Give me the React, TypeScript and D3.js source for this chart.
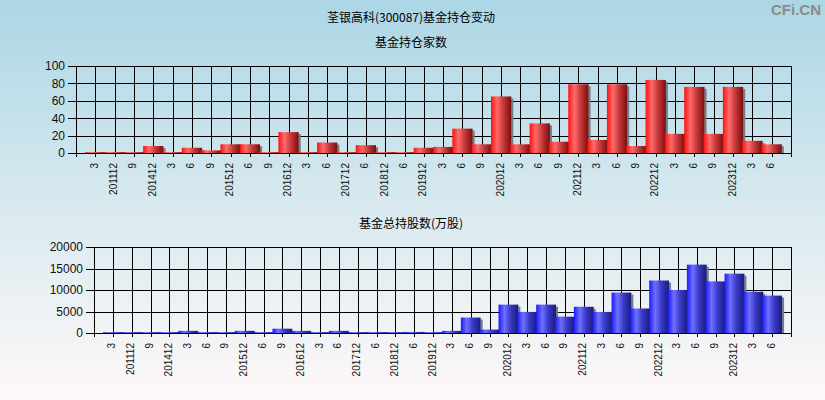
import React from 'react';
import * as d3 from 'd3';

const categories = ['3', '201112', '9', '201412', '3', '6', '9', '201512', '6', '9', '201612', '3', '6', '201712', '6', '201812', '6', '201912', '3', '6', '9', '202012', '3', '6', '9', '202112', '3', '6', '9', '202212', '3', '6', '9', '202312', '3', '6'];
const fundCount = [1, 1, 1, 8, 1, 6, 3, 10, 10, 1, 24, 1, 12, 1, 9, 1, 1, 6, 7, 28, 10, 65, 10, 34, 13, 79, 15, 79, 8, 84, 22, 76, 22, 76, 14, 10];
const fundShares = [200, 200, 200, 200, 500, 200, 200, 500, 200, 1000, 500, 200, 500, 200, 200, 200, 250, 200, 500, 3600, 800, 6600, 4900, 6600, 3800, 6100, 4900, 9400, 5700, 12200, 10000, 15900, 12000, 13800, 9600, 8700];
const countTicks = [0, 20, 40, 60, 80, 100];
const shareTicks = [0, 5000, 10000, 15000, 20000];

const W = 825;
const H = 400;
const numFont = '"Liberation Sans", Arial, sans-serif';
const cjkFont = '"Noto Sans CJK SC", sans-serif';

interface PanelProps {
    left: number,
    right: number,
    top: number,
    bottom: number,
    values: number[],
    ticks: number[],
    fill: string
}

function Panel({left, right, top, bottom, values, ticks, fill}: PanelProps) {
    const x = d3.scaleLinear().domain([-1, categories.length]).range([left, right]);
    const y = d3.scaleLinear().domain([0, ticks[ticks.length - 1]]).range([bottom, top]);
    const step = x(1) - x(0);
    const bw = step + 1;
    return (
        <g>
            {/* horizontal grid + y ticks */}
            {ticks.map(t => (
                <g key={'y' + t}>
                    <line x1={left - 8} x2={right} y1={Math.round(y(t)) + 0.5} y2={Math.round(y(t)) + 0.5} stroke="#000" strokeWidth={1}/>
                    <text x={left - 11} y={y(t)} dy="0.36em" textAnchor="end" fontFamily={numFont} fontSize={12} fill="#111">{t}</text>
                </g>
            ))}
            {/* vertical grid */}
            {[left, right].concat(categories.map((c, i) => x(i))).map((v, i) => (
                <line key={'v' + i} x1={Math.round(v) + 0.5} x2={Math.round(v) + 0.5} y1={top} y2={bottom + 4} stroke="#000" strokeWidth={1}/>
            ))}
            {/* bars */}
            {values.map((v, i) => {
                const h = y(0) - y(v);
                const x0 = x(i) - bw / 2;
                return (
                    <g key={'b' + i}>
                        <rect x={x0 + bw} y={y(v) + 2} width={2} height={Math.max(0, h - 2)} fill="#6d7f88"/>
                        <rect x={x0} y={y(v)} width={bw} height={h} fill={fill}/>
                    </g>
                );
            })}
            <line x1={left - 8} x2={right} y1={Math.round(bottom) + 0.5} y2={Math.round(bottom) + 0.5} stroke="#000" strokeWidth={1}/>
            {/* x labels */}
            {categories.map((c, i) => (
                <text key={'x' + i} transform={`translate(${x(i) - 1},${bottom + 10}) rotate(-90)`} textAnchor="end" dy="0.35em"
                      fontFamily={numFont} fontSize={10} fill="#111">{c}</text>
            ))}
        </g>
    );
}

export default function App() {
    return (
        <div style={{position: 'fixed', left: 0, top: 0}}>
            <svg width={W} height={H} style={{display: 'block'}}>
                <defs>
                    <linearGradient id="bg" x1="0" y1="0" x2="0" y2="1">
                        <stop offset="0" stopColor="#acd6e5"/>
                        <stop offset="0.5" stopColor="#d7e9ef"/>
                        <stop offset="1" stopColor="#fff8f8"/>
                    </linearGradient>
                    <linearGradient id="red" x1="0" y1="0" x2="1" y2="0">
                        <stop offset="0" stopColor="#ff1010"/>
                        <stop offset="0.3" stopColor="#ff6b6b"/>
                        <stop offset="0.6" stopColor="#c73a3a"/>
                        <stop offset="1" stopColor="#7a0c0c"/>
                    </linearGradient>
                    <linearGradient id="blue" x1="0" y1="0" x2="1" y2="0">
                        <stop offset="0" stopColor="#1a1aff"/>
                        <stop offset="0.3" stopColor="#7070ff"/>
                        <stop offset="0.6" stopColor="#3a3ac8"/>
                        <stop offset="1" stopColor="#1a1a78"/>
                    </linearGradient>
                </defs>
                <rect width={W} height={H} fill="url(#bg)"/>
                <text x={W - 4} y={15} textAnchor="end" fontFamily={'"Liberation Sans", Arial, sans-serif'} fontWeight="bold" fontSize={15} fill="#8a8a8a">CFi.CN</text>
                <text x={411} y={22} textAnchor="middle" fontFamily={cjkFont} fontSize={12} fill="#000">荃银高科(300087)基金持仓变动</text>
                <text x={411} y={47} textAnchor="middle" fontFamily={cjkFont} fontSize={12} fill="#000">基金持仓家数</text>
                <text x={411} y={228} textAnchor="middle" fontFamily={cjkFont} fontSize={12} fill="#000">基金总持股数(万股)</text>
                <Panel left={76} right={791} top={66} bottom={153} values={fundCount} ticks={countTicks} fill="url(#red)"/>
                <Panel left={94} right={791} top={247} bottom={333} values={fundShares} ticks={shareTicks} fill="url(#blue)"/>
            </svg>
        </div>
    );
}
